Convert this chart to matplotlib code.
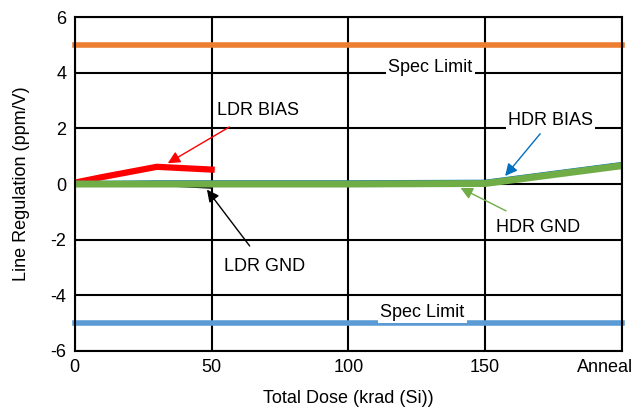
import matplotlib
matplotlib.use("Agg")
import matplotlib.pyplot as plt
import matplotlib.transforms as mtransforms

plt.rcParams['font.family'] = ['Liberation Sans', 'DejaVu Sans']
plt.rcParams['axes.unicode_minus'] = False

# dose points (Anneal drawn at 200)
dose = [0, 10, 30, 50]
ldr_bias = [0.05, 0.25, 0.62, 0.52]
ldr_gnd = [0.0, -0.05, -0.02, -0.12]

hdr_dose = [0, 10, 30, 50, 100, 150, 200]
hdr_bias = [0.08, 0.08, 0.1, 0.1, 0.1, 0.12, 0.76]
hdr_gnd = [0.0, 0.0, 0.0, 0.0, 0.0, 0.02, 0.66]

xticks = [0, 50, 100, 150, 200]
xlabels = ['0', '50', '100', '150', 'Anneal']
spec_hi = 5
spec_lo = -5

fig = plt.figure(figsize=(6.34, 4.09), dpi=100)
ax = fig.add_axes([0.118, 0.142, 0.863, 0.816])

ax.set_xlim(0, 200)
ax.set_ylim(-6, 6)
ax.set_xticks(xticks)
ax.set_xticklabels(xlabels)
ax.set_yticks(range(-6, 7, 2))
ax.tick_params(length=0, labelsize=13, pad=6)
ax.grid(True, color='black', linewidth=1.5)
ax.set_axisbelow(True)
for s in ax.spines.values():
    s.set_linewidth(1.5)

# shift "Anneal" left so it stays inside the figure
last = ax.get_xticklabels()[-1]
last.set_transform(last.get_transform() + mtransforms.ScaledTranslation(-0.17, 0, fig.dpi_scale_trans))

# spec limits
ax.plot([0, 200], [spec_hi, spec_hi], color='#ED7D31', lw=4, solid_capstyle='projecting', clip_on=False)
ax.plot([0, 200], [spec_lo, spec_lo], color='#5B9BD5', lw=4, solid_capstyle='projecting', clip_on=False)

ax.plot(dose, ldr_bias, color='#FF0000', lw=4.5)
ax.plot(dose, ldr_gnd, color='black', lw=2)
ax.plot(hdr_dose, hdr_bias, color='#0070C0', lw=1.5)
ax.plot(hdr_dose, hdr_gnd, color='#70AD47', lw=5)

bbox = dict(facecolor='white', edgecolor='none', pad=1.5)
ax.text(130, 4.2, 'Spec Limit', fontsize=13, ha='center', va='center', bbox=bbox)
ax.text(127, -4.62, 'Spec Limit', fontsize=13, ha='center', va='center', bbox=bbox)

ax.annotate('LDR BIAS', xy=(34, 0.75), xytext=(67, 2.66), fontsize=13,
            ha='center', va='center', color='black',
            arrowprops=dict(arrowstyle='-|>', color='#FF0000', lw=1, mutation_scale=18,
                            shrinkA=8, shrinkB=0))
ax.annotate('LDR GND', xy=(48.3, -0.2), xytext=(69.5, -2.95), fontsize=13,
            ha='center', va='center',
            arrowprops=dict(arrowstyle='-|>', color='black', lw=1, mutation_scale=18,
                            shrinkA=8, shrinkB=0))
ax.annotate('HDR BIAS', xy=(157.3, 0.29), xytext=(174, 2.27), fontsize=13,
            ha='center', va='center', bbox=bbox,
            arrowprops=dict(arrowstyle='-|>', color='#0070C0', lw=1, mutation_scale=18,
                            shrinkA=2, shrinkB=0))
ax.annotate('HDR GND', xy=(141, -0.14), xytext=(169.4, -1.55), fontsize=13,
            ha='center', va='center',
            arrowprops=dict(arrowstyle='-|>', color='#70AD47', lw=1, mutation_scale=18,
                            shrinkA=8, shrinkB=0))

ax.set_xlabel('Total Dose (krad (Si))', fontsize=13, labelpad=10)
ax.set_ylabel('Line Regulation (ppm/V)', fontsize=13, labelpad=15)

fig.savefig('out.png', dpi=100)
